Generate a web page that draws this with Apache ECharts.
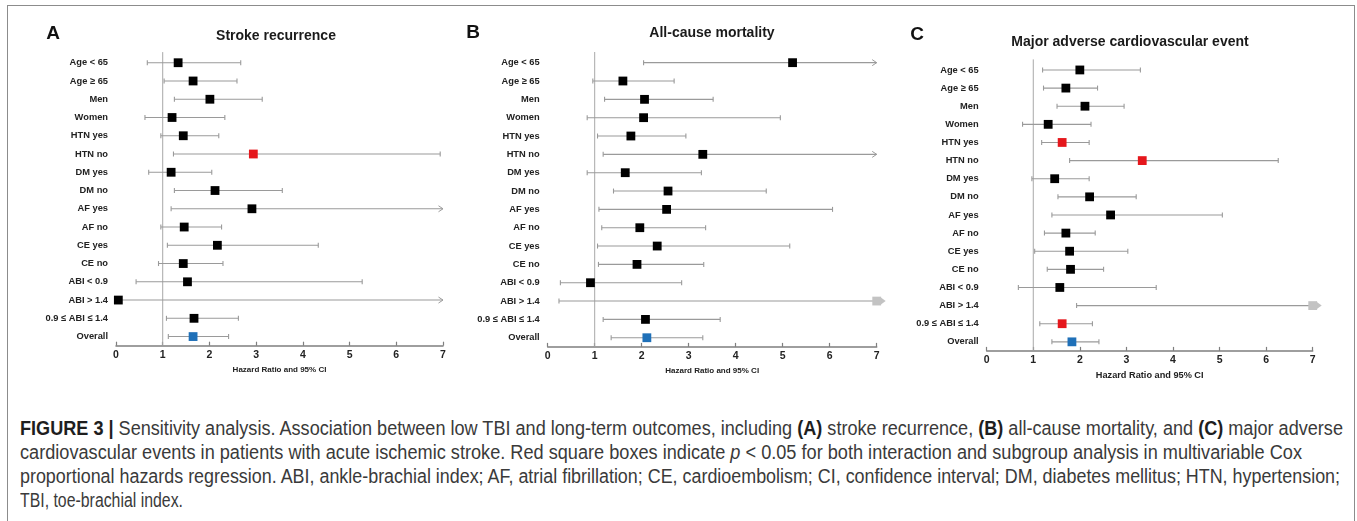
<!DOCTYPE html>
<html>
<head>
<meta charset="utf-8">
<script src="https://cdn.jsdelivr.net/npm/echarts@6/dist/echarts.min.js"></script>
<style>
html,body{margin:0;padding:0;background:#fff;width:1357px;height:521px;overflow:hidden}
#frame{position:absolute;left:7px;top:5px;width:1348px;height:540px;border:1px solid #8c8c8c;border-bottom:none;box-sizing:border-box;pointer-events:none}
#chart{position:absolute;left:0;top:0;width:1357px;height:395px}
#cap{position:absolute;left:20px;top:416px;font-family:"Liberation Sans",Arial,sans-serif;font-size:19.5px;line-height:24px;color:#3a3a3a;white-space:nowrap}
#cap div{display:block;height:24px}
#cap span.l{display:inline-block;transform-origin:0 0}
#cap b{color:#1e1e1e}
</style>
</head>
<body>
<div id="chart"></div>
<div id="cap">
<div><span class="l"><b>FIGURE 3 |</b> Sensitivity analysis. Association between low TBI and long-term outcomes, including <b>(A)</b> stroke recurrence, <b>(B)</b> all-cause mortality, and <b>(C)</b> major adverse</span></div>
<div><span class="l">cardiovascular events in patients with acute ischemic stroke. Red square boxes indicate <i>p</i> &lt; 0.05 for both interaction and subgroup analysis in multivariable Cox</span></div>
<div><span class="l">proportional hazards regression. ABI, ankle-brachial index; AF, atrial fibrillation; CE, cardioembolism; CI, confidence interval; DM, diabetes mellitus; HTN, hypertension;</span></div>
<div><span class="l">TBI, toe-brachial index.</span></div>
</div>
<div id="frame"></div>
<script>
// ---------- data ----------
const rows = ['Age < 65','Age ≥ 65','Men','Women','HTN yes','HTN no','DM yes','DM no','AF yes','AF no','CE yes','CE no','ABI < 0.9','ABI > 1.4','0.9 ≤ ABI ≤ 1.4','Overall'];
const X_MIN = 0, X_MAX = 7, X_STEP = 1;
const REF_X = 1;   // null-effect reference line
const axisTitle = 'Hazard Ratio and 95% CI';
const panelTitles = ['Stroke recurrence','All-cause mortality','Major adverse cardiovascular event'];
const panelLetters = ['A','B','C'];

// null upper limit = interval extends past the axis (arrow); null HR = estimate off scale
const A_hr = [1.33,1.65,2.01,1.20,1.44,2.94,1.18,2.12,2.91,1.46,2.17,1.44,1.53,0.05,1.67,1.65];
const A_lo = [0.67,1.03,1.25,0.62,0.96,1.23,0.70,1.25,1.18,0.96,1.10,0.91,0.43,0.00,1.08,1.12];
const A_hi = [2.67,2.59,3.13,2.33,2.20,6.94,2.05,3.56,null,2.26,4.33,2.29,5.27,null,2.62,2.41];
const A_mark = ['k','k','k','k','k','r','k','k','k','k','k','k','k','k','k','b'];

const B_hr = [5.21,1.60,2.06,2.04,1.77,3.30,1.65,2.56,2.53,1.96,2.33,1.90,0.91,null,2.08,2.11];
const B_lo = [2.04,0.96,1.21,0.84,1.06,1.18,0.84,1.40,1.09,1.15,1.06,1.08,0.27,0.24,1.18,1.35];
const B_hi = [null,2.69,3.52,4.95,2.94,null,3.27,4.65,6.06,3.36,5.15,3.32,2.85,null,3.67,3.30];
const B_mark = ['k','k','k','k','k','k','k','k','k','k','k','k','k','g','k','b'];

const C_hr = [2.00,1.70,2.11,1.32,1.62,3.34,1.46,2.21,2.66,1.70,1.78,1.80,1.57,null,1.62,1.83];
const C_lo = [1.20,1.22,1.51,0.77,1.18,1.78,0.97,1.53,1.40,1.24,1.03,1.30,0.68,1.93,1.14,1.40];
const C_hi = [3.30,2.38,2.95,2.24,2.20,6.26,2.20,3.21,5.06,2.33,3.03,2.51,3.64,null,2.27,2.41];
const C_mark = ['k','k','k','k','r','r','k','k','k','k','k','k','k','g','r','b'];

// ---------- styling ----------
const markColor = {k:'#000000', r:'#e5171c', b:'#1f70b8', g:'#c3c3c3'};
const FONT = '"Liberation Sans", Arial, sans-serif';
const barColor = '#9a9a9a';

const panels = [
  {hr:A_hr, lo:A_lo, hi:A_hi, mark:A_mark, grid:{left:116, top:53.6, width:327, height:292.1}, nameSize:8, nameGap:18, title:[276,36], letter:[53,34]},
  {hr:B_hr, lo:B_lo, hi:B_hi, mark:B_mark, grid:{left:547.7, top:53.5, width:329, height:293.4}, nameSize:8, nameGap:18, title:[712,33], letter:[473,33]},
  {hr:C_hr, lo:C_lo, hi:C_hi, mark:C_mark, grid:{left:986.7, top:60.9, width:326, height:290}, nameSize:9.2, nameGap:19, title:[1130,42], letter:[917,35]}
];

function renderErr(params, api) {
  const lo = api.value(0), hi = api.value(1), r = api.value(2), open = api.value(3), off = api.value(4);
  const p0 = api.coord([lo, r]), p1 = api.coord([hi, r]);
  const y = p0[1];
  const st = {stroke: barColor, lineWidth: 1.1, fill: 'none'};
  const ch = [];
  if (params.dataIndex === 0) {
    const cs = params.coordSys;
    const xr = api.coord([REF_X, r])[0];
    ch.push({type:'line', shape:{x1:xr, y1:cs.y - 1.5, x2:xr, y2:cs.y + cs.height}, style:{stroke:'#a8a8a8', lineWidth:1, fill:'none'}});
  }
  ch.push({type:'line', shape:{x1:p0[0], y1:y, x2:p1[0], y2:y}, style:st});
  ch.push({type:'line', shape:{x1:p0[0], y1:y-2.5, x2:p0[0], y2:y+2.5}, style:st});
  if (!open) {
    ch.push({type:'line', shape:{x1:p1[0], y1:y-2.5, x2:p1[0], y2:y+2.5}, style:st});
  } else if (off) {
    ch.push({type:'polygon', shape:{points:[[p1[0]+3.5,y-4],[p1[0]+9,y],[p1[0]+3.5,y+4]]}, style:{fill:markColor.g, stroke:'none'}});
  } else {
    ch.push({type:'polyline', shape:{points:[[p1[0]-4.5,y-3],[p1[0],y],[p1[0]-4.5,y+3]]}, style:{stroke:'#9c9c9c', lineWidth:1, fill:'none'}});
  }
  return {type:'group', children:ch};
}

const grids = [], xAxes = [], yAxes = [], series = [], graphics = [];
panels.forEach((p, i) => {
  grids.push(Object.assign({containLabel:false}, p.grid));
  xAxes.push({
    type:'value', gridIndex:i, min:X_MIN, max:X_MAX, interval:X_STEP,
    axisLine:{show:true, lineStyle:{color:'#7f7f7f', width:1.5}},
    axisTick:{show:true, inside:true, length:4, lineStyle:{color:'#7f7f7f', width:1.2}},
    splitLine:{show:false},
    axisLabel:{fontFamily:FONT, fontWeight:'bold', fontSize:10.5, color:'#222', margin:4},
    name:axisTitle, nameLocation:'middle', nameGap:p.nameGap,
    nameTextStyle:{fontFamily:FONT, fontWeight:'bold', fontSize:p.nameSize, color:'#222'}
  });
  yAxes.push({
    type:'category', gridIndex:i, data:rows, inverse:true,
    axisLine:{show:false}, axisTick:{show:false}, splitLine:{show:false},
    axisLabel:{fontFamily:FONT, fontWeight:'bold', fontSize:9.3, color:'#222', margin:8}
  });
  series.push({
    type:'custom', xAxisIndex:i, yAxisIndex:i, renderItem:renderErr, silent:true,
    encode:{x:[0,1], y:2},
    data: rows.map((_, r) => [p.lo[r], p.hi[r] == null ? X_MAX : p.hi[r], r, p.hi[r] == null ? 1 : 0, p.hr[r] == null ? 1 : 0]),
    z:2
  });
  series.push({
    type:'scatter', xAxisIndex:i, yAxisIndex:i, symbol:'rect', symbolSize:8.8, silent:true,
    data: rows.map((_, r) => ({value:[p.hr[r] == null ? X_MAX : p.hr[r], r], itemStyle:{color:markColor[p.mark[r]], opacity:1}})),
    z:3
  });
  graphics.push({type:'text', x:p.title[0], y:p.title[1], style:{text:panelTitles[i], fontFamily:FONT, fontWeight:'bold', fontSize:14, fill:'#1a1a1a', align:'center', verticalAlign:'middle'}});
  graphics.push({type:'text', x:p.letter[0], y:p.letter[1], style:{text:panelLetters[i], fontFamily:FONT, fontWeight:'bold', fontSize:19, fill:'#111', align:'center', verticalAlign:'middle'}});
});

const chart = echarts.init(document.getElementById('chart'), null, {renderer:'canvas'});
chart.setOption({
  animation:false,
  backgroundColor:'#ffffff',
  grid:grids, xAxis:xAxes, yAxis:yAxes, series:series, graphic:graphics
});

// fit each caption line to its printed width (the original uses condensed type)
const capWidths = [1323, 1282, 1320, 163];
document.querySelectorAll('#cap span.l').forEach((s, k) => {
  const w = s.getBoundingClientRect().width;
  s.style.transform = 'scaleX(' + (capWidths[k] / w).toFixed(4) + ')';
});
</script>
</body>
</html>
